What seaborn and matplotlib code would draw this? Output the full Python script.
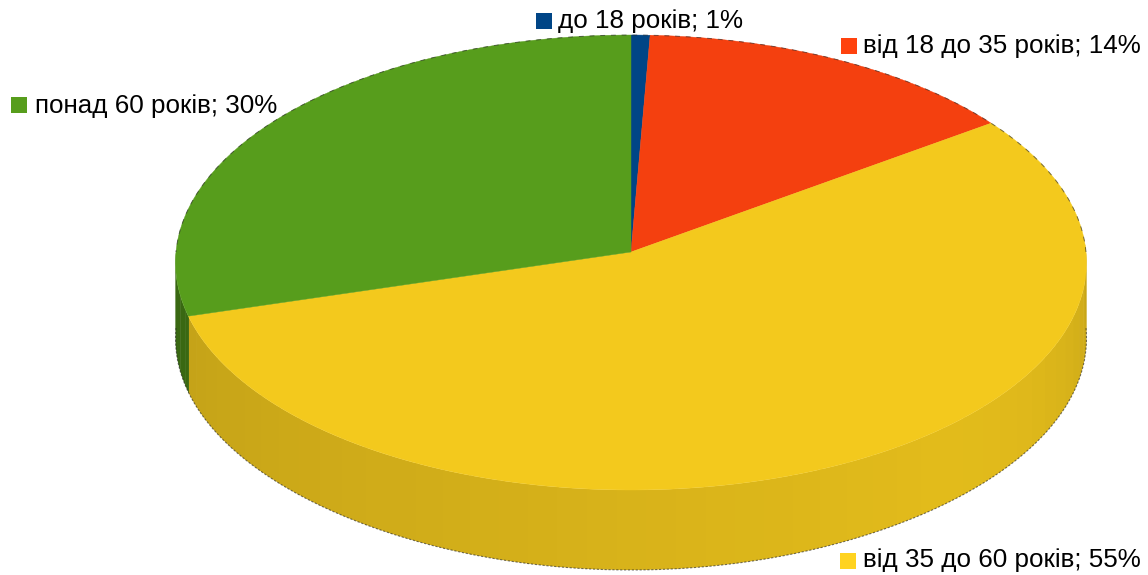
import numpy as np
import matplotlib
matplotlib.use("Agg")
import matplotlib.pyplot as plt
from matplotlib.patches import Rectangle
import seaborn as sns

# values, clockwise from 12 o'clock (labels are rounded, slice sizes)
categories = ["до 18 років", "від 18 до 35 років", "від 35 до 60 років", "понад 60 років"]
label_percent = [1, 14, 55, 30]
slice_values = [0.7, 14.4, 55.4, 29.5]
slice_colors = ["#004586", "#F4400F", "#F3C91D", "#579D1C"]
marker_colors = ["#004586", "#FF420E", "#FFD320", "#579D1C"]

# label anchors in pixels: marker left, marker top, text left, text middle
label_pos = [(536, 13, 558, 21), (841, 38, 863, 46), (840, 553, 863, 560), (11, 97, 35, 106)]

cx, cy = 631, 252
rx, ry = 455, 227
persp = 0.0462

sns.set_theme(style="white")
plt.rcParams["font.family"] = ["Liberation Sans", "DejaVu Sans"]
palette = sns.color_palette(slice_colors)


def project(deg):
    # circle -> screen, far edge is squeezed a bit like in the original 3d view
    t = np.deg2rad(deg)
    w = 1 + persp * np.sin(t)
    return cx + rx * np.cos(t) / w, cy - ry * np.sin(t) / w


def wall_depth(deg):
    # wall gets a little taller towards the viewer
    return 76 + 4 * np.clip(-np.sin(np.deg2rad(deg)), 0, 1) ** 6


def shade(deg):
    # side wall is brightest lower right, darker towards both ends
    deg = deg % 360
    if deg < 310:
        return 0.93 - 0.11 * (310 - deg) / 105
    return 0.93 - 0.11 * ((deg - 310) / 50) ** 2


fig = plt.figure(figsize=(11.48, 5.75), dpi=100)
ax = fig.add_axes([0, 0, 1, 1])
ax.set_xlim(0, 1148)
ax.set_ylim(575, 0)
ax.axis("off")

edges = 90 - np.cumsum([0] + slice_values) * 3.6

# side wall, drawn in strips so the shading steps like the reference
for i in range(len(slice_values)):
    start, end = edges[i + 1], edges[i]
    for a0 in np.arange(start, end, 3.6):
        a1 = min(a0 + 3.6, end)
        mid = (a0 + a1) / 2
        if np.sin(np.deg2rad(mid)) > 0.02:
            continue
        th = np.linspace(a0, a1 + 0.3, 5)
        x, y = project(th)
        c = np.array(palette[i]) * (shade(mid) if i == 2 else 0.66)
        low = y + wall_depth(th)
        ax.fill(np.r_[x, x[::-1]], np.r_[y, low[::-1]], color=tuple(c), lw=0, zorder=1)

# top of the disc
for i in range(len(slice_values)):
    th = np.linspace(edges[i + 1], edges[i], 200)
    x, y = project(th)
    ax.fill(np.r_[cx, x], np.r_[cy, y], color=palette[i], lw=0.3, zorder=2)

# thin rough dark rim seen on the outer edge
th = np.linspace(0, 180, 360)
x, y = project(th)
ax.plot(x, y, color="#222222", lw=0.7, ls=(0, (5, 6)), alpha=0.6, zorder=3)
th = np.linspace(180, 360, 400)
x, y = project(th)
ax.plot(x, y + wall_depth(th), color="#222222", lw=0.8, ls=(0, (2, 1.5)), alpha=0.6, zorder=1.5)

# labels
for i, name in enumerate(categories):
    mx, my, tx, ty = label_pos[i]
    ax.add_patch(Rectangle((mx, my), 16, 16, color=marker_colors[i], lw=0, zorder=4))
    ax.text(tx, ty, f"{name}; {label_percent[i]}%", fontsize=18.75, color="black",
            ha="left", va="center", zorder=5)

plt.savefig("out.png", dpi=100)
